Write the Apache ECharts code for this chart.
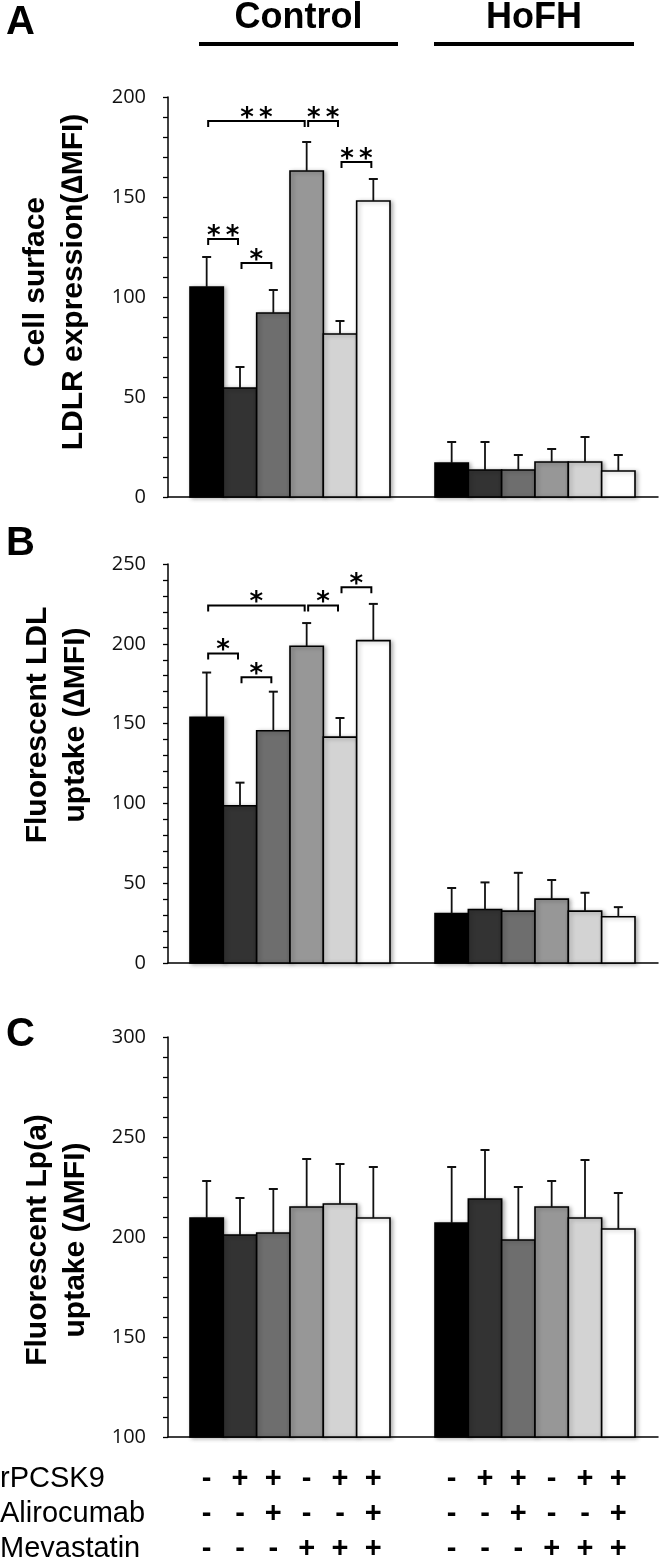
<!DOCTYPE html>
<html>
<head>
<meta charset="utf-8">
<script src="https://cdn.jsdelivr.net/npm/echarts@6/dist/echarts.min.js"></script>
<style>html,body{margin:0;padding:0;background:#fff;}#c{width:664px;height:1560px;}</style>
</head>
<body>
<div id="c"></div>
<script>
// ---- data ----
const groups = ['Control', 'HoFH'];
const treatmentNames = ['rPCSK9', 'Alirocumab', 'Mevastatin'];
const rPCSK9     = ['-', '+', '+', '-', '+', '+'];
const alirocumab = ['-', '-', '+', '-', '-', '+'];
const mevastatin = ['-', '-', '-', '+', '+', '+'];

const aTitle = 'Cell surface\nLDLR expression(\u2206MFI)';
const aControl    = [105, 54.5, 92, 163, 81.5, 148];
const aControlErr = [15, 10.5, 11.5, 14.5, 6.5, 11];
const aHoFH       = [17, 13.5, 13.5, 17.5, 17.5, 13];
const aHoFHErr    = [10.5, 14, 7.5, 6.5, 12.5, 8];
const aTicks = [0, 50, 100, 150, 200];
const aBrackets = [[0, 3, 188, '**'], [3, 4, 188, '**'], [4, 5, 167.5, '**'], [0, 1, 129, '**'], [1, 2, 117, '*']];

const bTitle = 'Fluorescent LDL\nuptake (\u2206MFI)';
const bControl    = [154, 98.5, 145.5, 198.5, 141.5, 202];
const bControlErr = [28, 14.5, 24.5, 14.5, 12, 23];
const bHoFH       = [31, 33.5, 32.5, 40, 32.5, 29];
const bHoFHErr    = [16, 17, 24, 12, 11.5, 6];
const bTicks = [0, 50, 100, 150, 200, 250];
const bBrackets = [[0, 3, 224, '*'], [3, 4, 224, '*'], [4, 5, 235.5, '*'], [0, 1, 194, '*'], [1, 2, 179, '*']];

const cTitle = 'Fluorescent Lp(a)\nuptake (\u2206MFI)';
const cControl    = [209.5, 201, 202, 215, 216.5, 209.5];
const cControlErr = [18.5, 18.5, 22, 24, 20, 25.5];
const cHoFH       = [207, 219, 198.5, 215, 209.5, 204];
const cHoFHErr    = [28, 24.5, 26.5, 13, 29, 18];
const cTicks = [100, 150, 200, 250, 300];
const cBrackets = [];

// ---- styling / layout ----
const barColors = ['#000000', '#333333', '#6e6e6e', '#979797', '#d3d3d3', '#ffffff'];
const GAP = 1.35;                // group gap, in bar widths
const X_MIN = -0.66, X_MAX = 12 + GAP + 0.69;
function slotX(g, i) { return g * (6 + GAP) + i + 0.5; }

const FONT = '"Liberation Sans", Arial, sans-serif';
const panels = [
  {title: aTitle, ctrl: aControl, ctrlErr: aControlErr, hofh: aHoFH, hofhErr: aHoFHErr, ticks: aTicks, brackets: aBrackets,
   top: 97, height: 400, letter: 'A', letterY: 23, titleX: 55, titleY: 282},
  {title: bTitle, ctrl: bControl, ctrlErr: bControlErr, hofh: bHoFH, hofhErr: bHoFHErr, ticks: bTicks, brackets: bBrackets,
   top: 564, height: 399, letter: 'B', letterY: 544, titleX: 57, titleY: 725},
  {title: cTitle, ctrl: cControl, ctrlErr: cControlErr, hofh: cHoFH, hofhErr: cHoFHErr, ticks: cTicks, brackets: cBrackets,
   top: 1037, height: 400, letter: 'C', letterY: 1035, titleX: 57, titleY: 1240}
];

const grid = [], xAxis = [], yAxis = [], series = [], graphic = [];

panels.forEach((p, k) => {
  const yMin = p.ticks[0], yMax = p.ticks[p.ticks.length - 1];
  grid.push({left: 168, width: 490, top: p.top, height: p.height, containLabel: false});
  xAxis.push({type: 'value', gridIndex: k, min: X_MIN, max: X_MAX, position: 'bottom',
    axisLine: {show: true, onZero: false, lineStyle: {color: '#000', width: 1.5}},
    axisTick: {show: false}, axisLabel: {show: false}, splitLine: {show: false}});
  yAxis.push({type: 'value', gridIndex: k, min: yMin, max: yMax, interval: 50,
    axisLine: {show: true, onZero: false, lineStyle: {color: '#000', width: 1.5}},
    axisTick: {show: true, length: 5, lineStyle: {color: '#000', width: 1.3}},
    minorTick: {show: true, splitNumber: 5, length: 5, lineStyle: {color: '#000', width: 1.3}},
    splitLine: {show: false}, minorSplitLine: {show: false},
    axisLabel: {margin: 22, fontSize: 20, color: '#111', fontFamily: '"Open Sans", sans-serif'}});

  const data = [];
  [[p.ctrl, p.ctrlErr], [p.hofh, p.hofhErr]].forEach((pair, g) => {
    pair[0].forEach((v, i) => data.push([slotX(g, i), v, pair[1][i], i]));
  });
  series.push({
    type: 'custom', xAxisIndex: k, yAxisIndex: k, clip: false, data: data,
    renderItem: function (params, api) {
      const x = api.value(0), v = api.value(1), e = api.value(2), ci = api.value(3);
      const w = api.size([1, 0])[0];
      const top = api.coord([x, v]);
      const base = api.coord([x, yMin]);
      const errTop = api.coord([x, v + e]);
      return {type: 'group', children: [
        {type: 'rect', shape: {x: top[0] - w / 2, y: top[1], width: w, height: base[1] - top[1]},
         style: {fill: barColors[ci], stroke: '#000', lineWidth: 1.6,
                 shadowBlur: 4, shadowOffsetX: 2, shadowOffsetY: 1, shadowColor: 'rgba(0,0,0,0.3)'}},
        {type: 'line', shape: {x1: top[0], y1: top[1], x2: top[0], y2: errTop[1]},
         style: {stroke: '#111', lineWidth: 1.8}},
        {type: 'line', shape: {x1: top[0] - 4.5, y1: errTop[1], x2: top[0] + 4.5, y2: errTop[1]},
         style: {stroke: '#111', lineWidth: 2}}
      ]};
    }
  });

  if (p.brackets.length) {
    series.push({
      type: 'custom', xAxisIndex: k, yAxisIndex: k, clip: false,
      data: p.brackets.map(b => [slotX(0, b[0]), slotX(0, b[1]), b[2], b[3].length]),
      renderItem: function (params, api) {
        const l = api.coord([api.value(0), api.value(2)]);
        const r = api.coord([api.value(1), api.value(2)]);
        const x1 = l[0] + 1.5, x2 = r[0] - 2, y = l[1];
        const label = api.value(3) === 2 ? '*\u2009*' : '*';
        return {type: 'group', children: [
          {type: 'polyline', shape: {points: [[x1, y + 6], [x1, y], [x2, y], [x2, y + 6]]},
           style: {stroke: '#000', lineWidth: 2, fill: null}},
          {type: 'text', x: (x1 + x2) / 2, y: y - 2,
           style: {text: label, fontSize: 26, fontWeight: 'bold', fontFamily: '"DejaVu Sans", sans-serif', fill: '#000', align: 'center', verticalAlign: 'middle'}}
        ]};
      }
    });
  }

  graphic.push({type: 'text', x: 6, y: p.letterY,
    style: {text: p.letter, fontSize: 40, fontWeight: 'bold', fontFamily: FONT, fill: '#000', align: 'left', verticalAlign: 'middle'}});
  graphic.push({type: 'text', x: p.titleX, y: p.titleY, rotation: Math.PI / 2,
    style: {text: p.title, fontSize: 30, fontWeight: 'bold', fontFamily: FONT, fill: '#000',
            align: 'center', verticalAlign: 'middle', lineHeight: 38}});
});

// treatment sign rows under panel C
const signRows = [rPCSK9, alirocumab, mevastatin];
const signData = [];
groups.forEach((g, gi) => rPCSK9.forEach((s, i) => signData.push([slotX(gi, i), i])));
series.push({
  type: 'custom', xAxisIndex: 2, yAxisIndex: 2, clip: false, data: signData,
  renderItem: function (params, api) {
    const i = api.value(1);
    const pt = api.coord([api.value(0), cTicks[0]]);
    const offs = [42, 77, 112];
    return {type: 'group', children: signRows.map((row, r) => ({
      type: 'text', x: pt[0], y: pt[1] + offs[r],
      style: {text: row[i], fontSize: 29, fontWeight: 'bold', fontFamily: FONT, fill: '#000', align: 'center', verticalAlign: 'middle'}
    }))};
  }
});
treatmentNames.forEach((t, r) => {
  graphic.push({type: 'text', x: 0, y: 1479 + [0, 35, 70][r],
    style: {text: t, fontSize: 29, fontFamily: FONT, fill: '#000', align: 'left', verticalAlign: 'middle'}});
});

// group headers
[[298.5, 199, 398], [534, 434, 634]].forEach((h, gi) => {
  graphic.push({type: 'text', x: h[0], y: 18,
    style: {text: groups[gi], fontSize: 36, fontWeight: 'bold', fontFamily: FONT, fill: '#000', align: 'center', verticalAlign: 'middle'}});
  graphic.push({type: 'rect', shape: {x: h[1], y: 42, width: h[2] - h[1], height: 4}, style: {fill: '#000'}});
});

const chart = echarts.init(document.getElementById('c'), null, {renderer: 'canvas'});
chart.setOption({animation: false, backgroundColor: '#fff', grid, xAxis, yAxis, series, graphic});
</script>
</body>
</html>
